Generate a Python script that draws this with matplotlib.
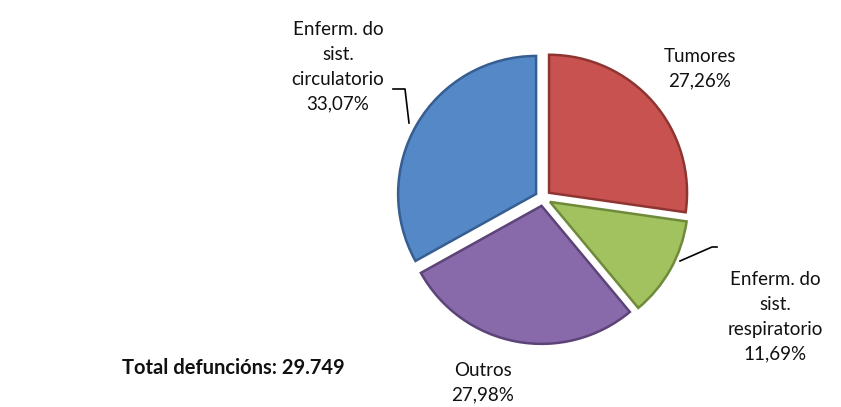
import matplotlib.pyplot as plt

# datos de defuncións por causa
causas = ["Tumores", "Enferm. do\nsist.\nrespiratorio", "Outros", "Enferm. do\nsist.\ncirculatorio"]
porcentaxes = [27.26, 11.69, 27.98, 33.07]
cores = ["#C8524F", "#A2C260", "#886AAA", "#5488C7"]
bordes = ["#8E3532", "#6F8A3A", "#5C4478", "#365E90"]
total_texto = "Total defuncións: 29.749"

plt.rcParams['font.family'] = ['Lato', 'DejaVu Sans']

fig = plt.figure(figsize=(8.41, 4.07), dpi=100)
ax = fig.add_axes([0, 0, 1, 1])

# explode vai en unidades de datos (píxeles aquí)
wedges, _ = ax.pie(porcentaxes, colors=cores, startangle=90, counterclock=False,
                   explode=[8] * 4, radius=138, center=(543, 209),
                   wedgeprops=dict(linewidth=1.8), frame=True)
for w, b in zip(wedges, bordes):
    w.set_edgecolor(b)
ax.set_xlim(0, 841)
ax.set_ylim(0, 407)
ax.set_aspect('equal')
ax.axis('off')

def etiqueta(i):
    return causas[i] + "\n" + f"{porcentaxes[i]:.2f}%".replace(".", ",")

kw = dict(ha="center", va="center", fontsize=13.5, linespacing=1.55, color="#111111")
ax.text(700, 407 - 69, etiqueta(0), **kw)
ax.text(775, 407 - 317, etiqueta(1), **kw)
ax.text(483, 407 - 383, etiqueta(2), **kw)
ax.text(338, 407 - 67, etiqueta(3), **kw)

# liñas guía
ax.plot([393, 405, 409], [407 - 89, 407 - 89, 407 - 123], color="black", lw=1.2)
ax.plot([680, 712, 717], [407 - 261, 407 - 247, 407 - 247], color="black", lw=1.2)

ax.text(122, 407 - 368, total_texto, ha="left", va="center", fontsize=14.5,
        fontweight="bold", color="#111111")

fig.savefig("out.png", dpi=100)
